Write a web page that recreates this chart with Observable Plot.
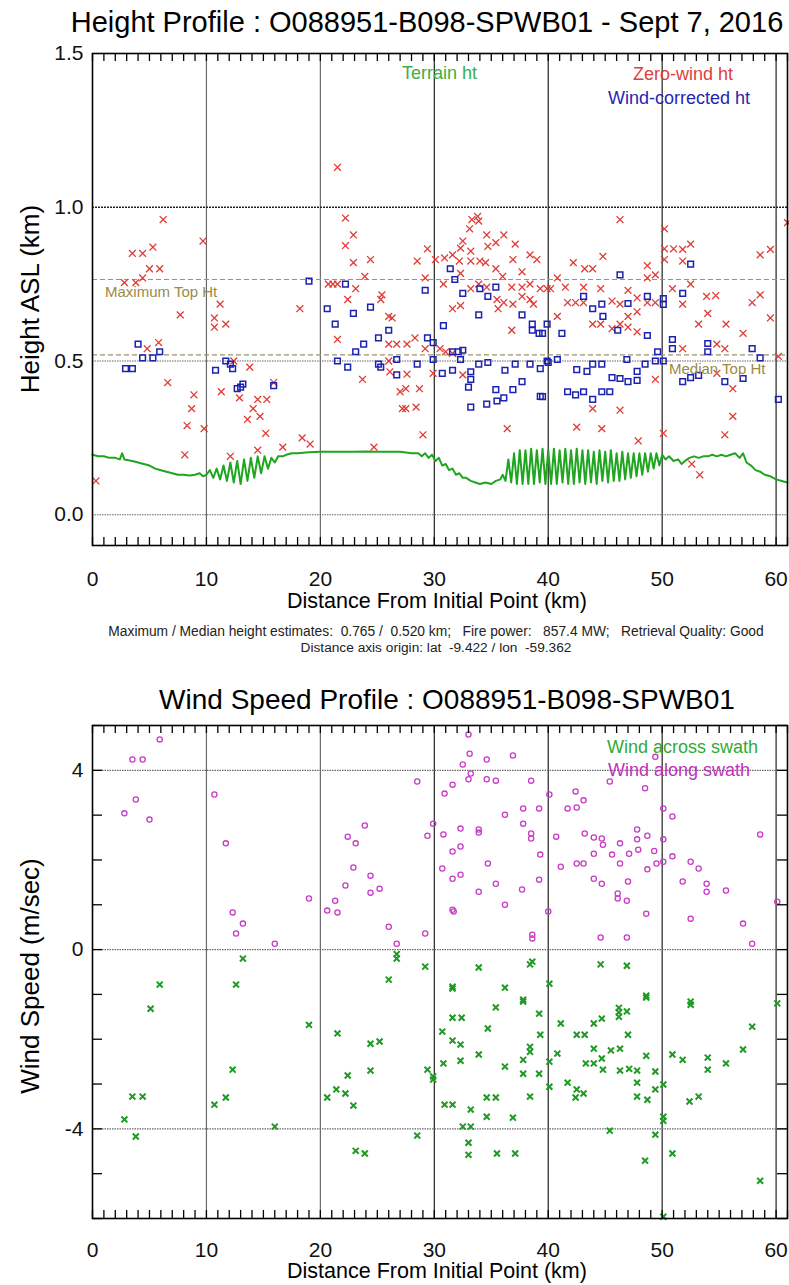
<!DOCTYPE html>
<html><head><meta charset="utf-8">
<script src="https://cdn.jsdelivr.net/npm/d3@7"></script>
<script src="https://cdn.jsdelivr.net/npm/@observablehq/plot@0.6"></script>
<style>
body{margin:0;background:#fff;font-family:"Liberation Sans",Arial,sans-serif;}
#wrap{position:relative;width:789px;height:1285px;overflow:hidden;background:#fff;}
#wrap svg{position:absolute;left:0;}
.t{position:absolute;white-space:pre;color:#000;line-height:1;}
</style></head><body><div id="wrap"></div>
<script>
// ---------- axis ticks ----------
const xMajor = [0, 10, 20, 30, 40, 50, 60];
const xMinor = d3.range(0, 62, 1);
const hYTicks = [0, 0.5, 1.0, 1.5];
const wYTicks = [-4, 0, 4];
const wYMinor = d3.range(-6, 6, 1);

// ---------- height profile: [distance km, height km] ----------
const zeroWind = [
[0.3,0.11],[2.8,0.755],[3.8,0.755],[4.4,0.77],[3.5,0.85],[4.4,0.85],[5.3,0.87],[5.0,0.80],[5.9,0.80],[6.2,0.96],
[4.8,0.54],[5.8,0.56],[6.6,0.43],[7.7,0.65],[8.9,0.39],[8.7,0.345],[8.3,0.29],[9.8,0.28],[8.1,0.195],[9.7,0.89],
[11.2,0.685],[10.7,0.64],[10.7,0.61],[11.7,0.62],[11.3,0.40],[12.4,0.50],[13.8,0.48],[12.9,0.38],[14.5,0.375],[15.3,0.375],
[14.1,0.345],[14.7,0.32],[13.6,0.31],[15.2,0.265],[14.5,0.21],[12.1,0.19],[16.7,0.22],[18.4,0.25],[19.1,0.23],[15.9,0.43],[18.2,0.67],
[21.5,1.13],[22.2,0.965],[22.9,0.91],[22.2,0.875],[22.9,0.82],[24.4,0.83],[23.9,0.775],[20.7,0.75],[21.1,0.75],[21.5,0.75],
[23.1,0.735],[25.3,0.70],[25.4,0.715],[22.4,0.70],[26.0,0.645],[26.3,0.64],[21.5,0.57],[23.7,0.44],[24.7,0.22],
[26.0,0.555],[26.7,0.555],[27.6,0.555],[28.3,0.575],[29.2,0.54],[26.0,0.50],[26.1,0.465],[27.6,0.457],[27.0,0.40],[27.5,0.41],
[28.7,0.41],[27.2,0.345],[27.5,0.345],[28.4,0.35],[29.0,0.26],[29.4,0.865],[28.5,0.825],[29.2,0.77],
[30.1,0.83],[30.9,0.835],[31.6,0.845],[30.8,0.75],[32.5,0.89],[32.3,0.867],[33.2,0.857],[33.3,0.96],[33.8,0.97],[33.9,0.955],
[33.1,0.93],[34.6,0.91],[35.4,0.885],[36.1,0.91],[34.7,0.873],[37.1,0.88],[32.2,0.825],[33.2,0.825],[34.0,0.825],[34.5,0.82],
[35.4,0.80],[36.9,0.83],[37.7,0.79],[38.4,0.845],[39.0,0.83],[32.3,0.785],[33.2,0.735],[33.9,0.75],[34.6,0.74],[36.0,0.775],
[36.8,0.74],[37.7,0.74],[38.4,0.75],[39.3,0.735],[39.9,0.735],[31.6,0.67],[32.3,0.68],[35.5,0.70],[35.6,0.67],[36.1,0.69],
[36.9,0.685],[37.7,0.71],[38.4,0.70],[38.7,0.685],[36.8,0.60],[30.5,0.54],[31.0,0.53],[31.6,0.525],[32.5,0.455],[29.9,0.46],[36.4,0.28],
[40.2,0.735],[41.5,0.74],[43.1,0.74],[44.6,0.735],[47.0,0.73],[40.8,0.77],[42.2,0.82],[43.2,0.80],[43.9,0.80],[44.8,0.84],[46.3,0.96],
[48.7,0.81],[48.7,0.77],[49.4,0.78],[41.7,0.69],[42.4,0.69],[43.1,0.69],[45.6,0.695],[46.3,0.685],[47.8,0.705],[48.7,0.69],[49.4,0.69],
[40.8,0.645],[43.9,0.62],[44.6,0.62],[45.6,0.605],[46.3,0.62],[47.0,0.61],[47.0,0.645],[47.8,0.66],[47.8,0.595],
[42.5,0.285],[44.7,0.28],[43.9,0.345],[46.3,0.34],[47.9,0.24],[49.4,0.44],
[50.2,0.93],[50.2,0.865],[51.0,0.865],[51.8,0.863],[52.5,0.88],[50.2,0.83],[51.8,0.825],[52.5,0.75],[50.9,0.735],[51.8,0.685],
[53.9,0.71],[54.7,0.713],[54.0,0.655],[55.6,0.62],[53.2,0.62],[57.1,0.59],[57.9,0.69],[58.6,0.715],[58.6,0.845],[59.5,0.863],[59.5,0.64],[61.0,0.95],
[51.8,0.54],[55.5,0.54],[54.8,0.555],[54.8,0.46],[56.2,0.41],[60.2,0.515],[56.2,0.32],[50.1,0.265],[55.5,0.26],[52.6,0.165],[53.3,0.13]
];
const windCorrected = [
[2.9,0.475],[3.5,0.475],[4.0,0.555],[4.4,0.51],[5.3,0.51],[5.9,0.53],[10.8,0.47],[11.7,0.50],[12.1,0.49],[12.3,0.475],
[12.7,0.41],[13.2,0.425],[13.0,0.415],[15.9,0.42],[19.0,0.76],[20.6,0.67],[22.2,0.75],[21.3,0.62],[22.9,0.655],[24.4,0.675],
[23.8,0.555],[23.1,0.53],[25.1,0.575],[26.0,0.60],[21.5,0.50],[22.4,0.48],[25.1,0.49],[26.7,0.505],[26.7,0.455],[25.3,0.48],
[28.5,0.49],[29.2,0.73],[29.4,0.575],[29.9,0.56],[30.8,0.615],[29.9,0.505],[31.4,0.80],[31.8,0.765],[32.5,0.72],[33.9,0.65],
[34.0,0.735],[34.7,0.71],[35.4,0.74],[31.6,0.53],[32.1,0.53],[32.5,0.535],[32.3,0.505],[30.7,0.46],[31.6,0.47],
[33.2,0.465],[33.2,0.44],[33.0,0.415],[33.9,0.49],[34.7,0.495],[33.2,0.35],[34.6,0.36],[35.5,0.37],[36.1,0.38],
[35.4,0.407],[36.9,0.407],[37.7,0.433],[38.4,0.49],[36.2,0.47],[37.1,0.49],[39.3,0.475],[39.3,0.385],[40.0,0.495],
[37.7,0.65],[38.6,0.62],[38.6,0.60],[39.2,0.59],[39.9,0.62],
[46.3,0.78],[52.5,0.815],[51.8,0.72],[43.1,0.71],[43.9,0.67],[44.7,0.685],[44.8,0.645],[47.0,0.687],[48.7,0.71],[50.1,0.703],[50.1,0.684],
[41.2,0.59],[39.5,0.59],[46.1,0.60],[48.7,0.583],[50.9,0.57],[50.9,0.54],[54.0,0.557],[54.0,0.53],[57.9,0.54],[58.6,0.51],
[49.6,0.53],[49.4,0.50],[50.1,0.50],[39.9,0.50],[40.8,0.505],[42.5,0.472],[43.4,0.466],[43.9,0.49],[44.7,0.49],
[45.6,0.446],[46.3,0.443],[47.0,0.433],[47.8,0.437],[47.8,0.466],[48.5,0.49],[46.9,0.505],[51.8,0.433],[52.5,0.446],[53.2,0.453],
[55.5,0.433],[57.1,0.443],[39.5,0.384],[41.7,0.40],[42.4,0.39],[43.1,0.40],[43.9,0.375],[44.7,0.40],[45.4,0.40],[60.2,0.375]
];
const terrain = [
[0,0.195],[0.5,0.19],[1,0.19],[1.5,0.185],[2,0.185],[2.4,0.18],[2.6,0.2],[2.8,0.18],[3.5,0.175],[4,0.17],[4.5,0.165],[5,0.16],
[5.5,0.15],[6,0.145],[6.5,0.14],[7,0.135],[7.5,0.13],[8,0.13],[8.5,0.128],[9,0.13],[9.4,0.135],[9.7,0.125],[10,0.13],
[10.3,0.145],[10.6,0.12],[10.9,0.15],[11.2,0.115],[11.5,0.16],[11.8,0.11],[12.1,0.17],[12.4,0.105],[12.7,0.175],[13,0.1],
[13.3,0.18],[13.6,0.11],[13.9,0.185],[14.2,0.12],[14.5,0.19],[14.8,0.135],[15.1,0.19],[15.4,0.15],[15.7,0.185],[16,0.17],
[16.3,0.19],[16.7,0.19],[17,0.195],[17.5,0.2],[18,0.2],[19,0.203],[20,0.205],[21,0.205],[22,0.205],[23,0.205],[24,0.206],
[25,0.205],[26,0.205],[27,0.205],[28,0.2],[28.6,0.2],[28.9,0.19],[29.2,0.2],[29.5,0.185],[29.8,0.195],[30.1,0.175],[30.4,0.185],
[30.7,0.16],[31,0.165],[31.3,0.145],[31.6,0.15],[31.9,0.13],[32.2,0.135],[32.5,0.12],[32.8,0.12],[33.2,0.11],[33.6,0.105],
[34,0.1],[34.5,0.105],[35,0.1],[35.4,0.11],[35.8,0.115],[36,0.13],
[36.25,0.11],[36.5,0.18],[36.75,0.105],[37,0.2],[37.25,0.1],[37.5,0.21],[37.75,0.1],[38,0.21],[38.25,0.1],[38.5,0.215],
[38.75,0.1],[39,0.21],[39.25,0.105],[39.5,0.215],[39.75,0.1],[40,0.21],[40.25,0.1],[40.5,0.215],[40.75,0.1],[41,0.21],
[41.25,0.105],[41.5,0.215],[41.75,0.1],[42,0.21],[42.25,0.1],[42.5,0.215],[42.75,0.105],[43,0.21],[43.25,0.1],[43.5,0.21],
[43.75,0.105],[44,0.205],[44.25,0.1],[44.5,0.21],[44.75,0.11],[45,0.205],[45.25,0.105],[45.5,0.21],[45.75,0.11],[46,0.2],
[46.25,0.11],[46.5,0.205],[46.75,0.115],[47,0.2],[47.25,0.12],[47.5,0.2],[47.75,0.125],[48,0.2],[48.25,0.13],[48.5,0.2],
[48.75,0.14],[49,0.2],[49.25,0.15],[49.5,0.2],[49.75,0.16],[50,0.195],[50.3,0.18],[50.6,0.19],[51,0.175],[51.4,0.18],
[51.7,0.165],[52,0.175],[52.4,0.185],[52.8,0.19],[53.2,0.185],[53.6,0.19],[54,0.19],[54.4,0.195],[54.8,0.19],[55.2,0.195],
[55.6,0.19],[56,0.195],[56.4,0.2],[56.8,0.185],[57.1,0.2],[57.4,0.17],[57.8,0.16],[58.2,0.145],[58.6,0.14],[59,0.13],
[59.5,0.125],[60,0.115],[60.5,0.11],[61,0.105]
];
const topHeights = [0.765, 0.520]; // maximum, median top height (km)

// ---------- wind speed profile: [distance km, speed m/s] ----------
const windAlong = [
[2.8,3.04],[3.5,4.24],[4.4,4.24],[3.8,3.35],[5.0,2.9],[5.9,4.69],[10.7,3.46],[11.7,2.37],[12.3,0.83],[13.2,0.58],[12.6,0.36],[16.0,0.13],
[19.0,1.14],[20.6,0.87],[21.5,0.83],[21.3,1.09],[22.2,1.43],[22.4,2.52],[23.1,2.37],[23.9,2.77],[22.9,1.83],[24.4,1.65],[24.4,1.27],[25.2,1.36],[26.0,0.51],[26.7,0.13],
[28.5,3.75],[30.9,3.48],[31.6,3.68],[33.1,4.37],[32.5,4.13],[33.2,3.93],[33.0,3.8],[33.0,4.8],[34.6,4.24],[34.6,3.8],[35.4,3.77],[36.9,4.33],
[38.5,3.77],[40.1,3.46],[42.4,3.53],[41.7,3.15],[42.5,3.17],[43.1,3.33],[36.2,3.01],[37.8,3.15],[39.2,3.15],[37.8,2.81],[29.9,2.81],
[29.4,2.54],[30.8,2.57],[32.3,2.7],[33.9,2.68],[33.9,2.61],[38.5,2.59],[38.5,2.48],[31.6,2.19],[32.3,2.3],[34.7,1.92],[30.7,1.81],
[31.6,1.58],[32.3,1.67],[39.3,2.12],[39.2,1.56],[33.9,1.29],[35.4,1.47],[37.7,1.34],[36.2,1.0],[31.6,0.89],[31.7,0.85],[29.2,0.36],
[38.6,0.33],[38.6,0.25],[40.7,2.52],[41.1,1.85],[42.5,1.92],[43.1,1.92],[43.2,2.59],[44.0,2.5],[44.7,2.48],[44.8,2.34],[44.0,2.14],
[45.6,2.12],[46.3,2.37],[46.3,1.92],[47.1,2.14],[47.8,2.46],[47.8,2.68],[48.7,2.54],[49.3,2.2],[49.5,1.92],[48.7,1.79],[47.9,2.23],
[44.0,1.58],[44.7,1.47],[47.0,1.52],[46.1,1.25],[46.1,1.14],[46.9,1.09],[48.6,0.8],[44.6,0.27],[46.9,0.27],[48.5,3.6],[49.4,4.3],[45.4,3.75],
[50.1,3.15],[50.9,2.97],[50.1,2.46],[50.1,1.96],[50.9,2.08],[52.5,1.96],[53.2,1.81],[51.8,1.52],[53.9,1.47],[53.9,1.29],[55.6,1.32],
[52.5,0.69],[57.1,0.58],[57.9,0.13],[58.6,2.57],[60.1,1.07],[40.0,0.85]
];
const windAcross = [
[5.9,-0.78],[13.2,-0.2],[12.6,-0.78],[26.0,-0.67],[26.7,-0.2],[26.7,-0.1],[5.1,-1.32],[2.8,-3.79],[3.5,-3.28],[4.4,-3.28],[3.8,-4.17],
[10.7,-3.46],[11.7,-3.3],[12.3,-2.68],[16.0,-3.95],[19.0,-1.68],[21.5,-1.87],[24.4,-2.1],[25.2,-2.05],[22.4,-2.81],[24.4,-2.7],
[20.6,-3.3],[21.4,-3.12],[22.2,-3.21],[22.9,-3.48],[23.1,-4.49],[23.9,-4.55],
[28.5,-4.15],[29.4,-2.68],[29.9,-2.83],[29.9,-2.9],[30.7,-1.83],[30.8,-2.54],[30.9,-3.46],[31.6,-3.46],[31.6,-1.52],[32.4,-1.52],
[31.6,-2.03],[32.3,-2.12],[32.3,-2.48],[33.2,-3.57],[32.5,-3.95],[33.2,-3.95],[33.0,-4.31],[33.0,-4.58],[33.9,-2.34],[34.7,-1.76],
[34.6,-3.3],[35.4,-3.3],[34.6,-3.73],[35.4,-1.29],[35.5,-4.55],[36.2,-2.61],[36.9,-3.75],[37.1,-4.55],[37.8,-1.16],[37.8,-2.46],
[37.8,-2.77],[38.4,-2.17],[38.4,-2.28],[38.4,-3.28],[39.2,-1.43],[39.3,-1.9],[39.2,-2.77],[40.1,-2.5],[40.1,-3.06],[40.8,-2.32],
[41.1,-1.65],[41.7,-2.97],[42.5,-3.12],[43.1,-3.21],[42.4,-3.3],[42.5,-1.9],[43.2,-1.9],[43.3,-2.54],[44.0,-2.54],[44.7,-2.43],
[44.8,-2.68],[44.0,-1.65],[44.7,-1.54],[44.0,-2.21],[45.4,-4.04],[45.5,-2.25],[46.3,-2.21],[46.2,-1.3],[46.2,-1.4],[46.2,-1.5],
[46.9,-1.38],[46.3,-2.7],[47.1,-2.66],[47.8,-2.7],[47.0,-1.9],[47.8,-2.97],[47.8,-3.28],[48.6,-1.07],[48.6,-2.37],[48.7,-3.35],
[48.5,-4.71],[49.4,-2.72],[49.4,-3.12],[49.4,-4.13],[50.1,-3.01],[50.1,-3.73],[50.1,-3.82],[50.1,-5.96],[50.9,-2.34],[51.8,-2.46],
[50.9,-4.55],[52.5,-1.23],[52.4,-3.39],[53.2,-3.28],[54.0,-2.41],[54.0,-2.68],[55.6,-2.54],[57.1,-2.23],[57.9,-1.72],[58.6,-5.16],[60.1,-1.2],
[29.2,-0.38],[33.9,-0.4],[38.6,-0.27],[38.4,-0.33],[44.6,-0.33],[46.9,-0.36],[40.1,-0.76],[31.6,-0.87],[31.6,-0.83],[36.2,-0.85],
[37.8,-1.12],[48.6,-1.03],[52.5,-1.16]
];

const FONT = "Liberation Sans, Arial, Helvetica, sans-serif";
const wrap = document.getElementById("wrap");

function addText(txt, x, y, {size = 14, color = "#000", anchor = "middle", rotate = 0} = {}) {
  const d = document.createElement("div");
  d.className = "t";
  d.textContent = txt;
  d.style.fontSize = size + "px";
  d.style.color = color;
  d.style.left = x + "px";
  d.style.top = y + "px";
  const tx = anchor === "middle" ? "-50%" : anchor === "end" ? "-100%" : "0";
  d.style.transform = rotate ? `translate(-50%,-50%) rotate(${rotate}deg)` : `translate(${tx},-50%)`;
  wrap.appendChild(d);
}

const W = 789, ML = 92, MR = 2;
const FW = W - ML - MR; // frame width
const TICK = 8, YTICK = 10;

function gridMarks() {
  return [
    Plot.ruleX([10, 20], {stroke: "#6a6a6a", strokeWidth: 1.2}),
    Plot.ruleX([30, 40, 50, 60], {stroke: "#222", strokeWidth: 1.2}),
  ];
}
function minorX(FH) {
  return [
    Plot.ruleX(xMinor, {stroke: "#000", strokeWidth: 1.3, insetTop: FH - TICK}),
    Plot.ruleX(xMinor, {stroke: "#000", strokeWidth: 1.3, insetBottom: FH - TICK}),
  ];
}

// ---------- top chart ----------
const H1 = 615, MT1 = 53, MB1 = 70, FH1 = H1 - MT1 - MB1;
const topChart = Plot.plot({
  width: W, height: H1,
  marginLeft: ML, marginRight: MR, marginTop: MT1, marginBottom: MB1,
  x: {domain: [0, 61]},
  y: {domain: [-0.1, 1.5]},
  style: {fontFamily: FONT, background: "transparent", color: "#000"},
  marks: [
    ...gridMarks(),
    Plot.ruleY([0, 0.5], {stroke: "#666", strokeWidth: 1.2, strokeDasharray: "1.5,1"}),
    Plot.ruleY([1.0], {stroke: "#222", strokeWidth: 1.5, strokeDasharray: "2,1"}),
    Plot.ruleY(topHeights, {stroke: "#99966e", strokeWidth: 1.2, strokeDasharray: "5,3"}),
    Plot.line(terrain, {x: d => d[0], y: d => d[1], stroke: "#1fa51f", strokeWidth: 2}),
    Plot.dot(zeroWind, {x: d => d[0], y: d => d[1], symbol: "times", r: 3.2, stroke: "#e03c36", strokeWidth: 1.3}),
    Plot.dot(windCorrected, {x: d => d[0], y: d => d[1], symbol: "square", r: 3.2, fill: "none", stroke: "#1c22b0", strokeWidth: 1.5}),
    ...minorX(FH1),
    Plot.axisY({anchor: "left", ticks: hYTicks, tickFormat: d => d.toFixed(1), tickSize: 0, tickPadding: 9, fontSize: 21, fill: "#111", label: null}),
    Plot.axisX({anchor: "bottom", ticks: xMajor, tickFormat: d => String(d), tickSize: 0, tickPadding: 26, fontSize: 21, fill: "#111", label: null}),
    Plot.frame({stroke: "#000", strokeWidth: 1.6})
  ]
});
topChart.style.top = "0px";
wrap.appendChild(topChart);

// ---------- bottom chart ----------
const H2 = 625, MT2 = 65, MB2 = 67, FH2 = H2 - MT2 - MB2;
const botChart = Plot.plot({
  width: W, height: H2,
  marginLeft: ML, marginRight: MR, marginTop: MT2, marginBottom: MB2,
  x: {domain: [0, 61]},
  y: {domain: [-6, 5]},
  style: {fontFamily: FONT, background: "transparent", color: "#000"},
  marks: [
    ...gridMarks(),
    Plot.ruleY(wYTicks, {stroke: "#666", strokeWidth: 1.2, strokeDasharray: "1.5,1"}),
    Plot.dot(windAlong, {x: d => d[0], y: d => d[1], symbol: "circle", r: 2.6, fill: "none", stroke: "#c83cc8", strokeWidth: 1.3}),
    Plot.dot(windAcross, {x: d => d[0], y: d => d[1], symbol: "times", r: 2.8, stroke: "#1f9a24", strokeWidth: 2}),
    ...minorX(FH2),
    Plot.ruleY(wYMinor, {stroke: "#000", strokeWidth: 1.3, insetRight: FW - YTICK}),
    Plot.ruleY(wYMinor, {stroke: "#000", strokeWidth: 1.3, insetLeft: FW - YTICK}),
    Plot.axisY({anchor: "left", ticks: wYTicks, tickFormat: d => String(d), tickSize: 0, tickPadding: 9, fontSize: 21, fill: "#111", label: null}),
    Plot.axisX({anchor: "bottom", ticks: xMajor, tickFormat: d => String(d), tickSize: 0, tickPadding: 24, fontSize: 21, fill: "#111", label: null}),
    Plot.frame({stroke: "#000", strokeWidth: 1.6})
  ]
});
botChart.style.top = "660px";
wrap.appendChild(botChart);

// ---------- text ----------
addText("Height Profile : O088951-B098-SPWB01 - Sept 7, 2016", 427, 22, {size: 29});
addText("Distance From Initial Point (km)", 437, 602, {size: 21.5});
addText("Height ASL (km)", 30, 299, {size: 26, rotate: -90});
addText("Maximum / Median height estimates:  0.765 /  0.520 km;   Fire power:   857.4 MW;   Retrieval Quality: Good", 436, 632, {size: 13.8, color: "#222"});
addText("Distance axis origin: lat  -9.422 / lon  -59.362", 436, 648, {size: 13.7, color: "#222"});
addText("Terrain ht", 402, 73, {size: 18, color: "#3cb043", anchor: "start"});
addText("Zero-wind ht", 633, 74, {size: 18, color: "#e04040", anchor: "start"});
addText("Wind-corrected ht", 608, 98, {size: 18, color: "#2626b4", anchor: "start"});
addText("Maximum Top Ht", 105, 291, {size: 15, color: "#9a8a45", anchor: "start"});
addText("Median Top Ht", 669, 368, {size: 15, color: "#9a8a45", anchor: "start"});

addText("Wind Speed Profile : O088951-B098-SPWB01", 447, 700, {size: 28});
addText("Distance From Initial Point (km)", 437, 1272, {size: 21.5});
addText("Wind Speed (m/sec)", 30, 976, {size: 26, rotate: -90});
addText("Wind across swath", 607, 747, {size: 18, color: "#33aa33", anchor: "start"});
addText("Wind along swath", 608, 770, {size: 18, color: "#c030c0", anchor: "start"});
</script></body></html>
